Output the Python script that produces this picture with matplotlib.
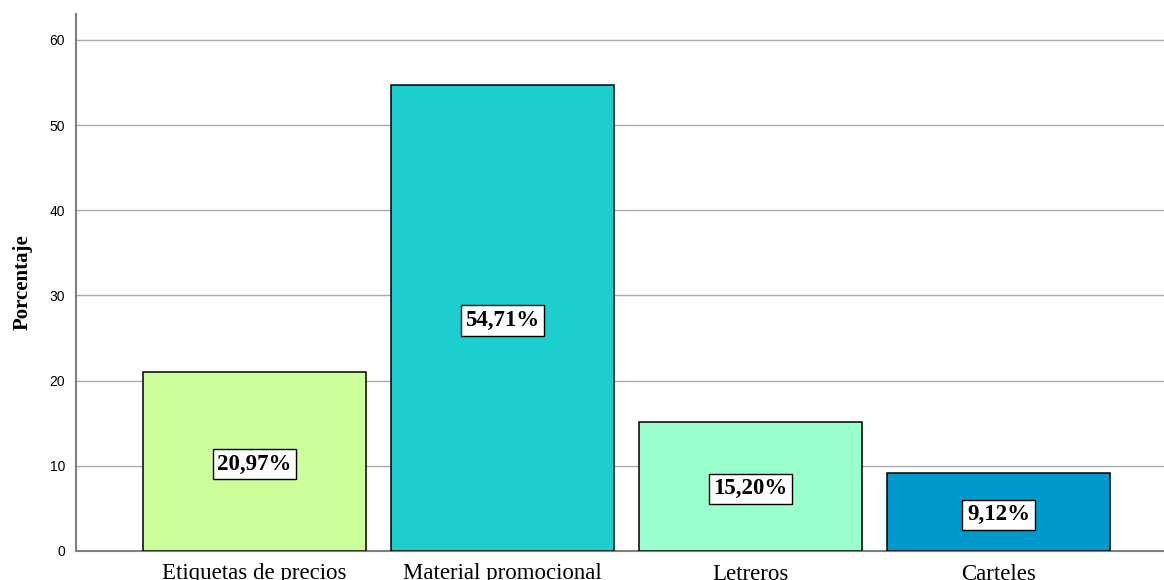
import matplotlib.pyplot as plt

# data ========================================================================

categorias = ["Etiquetas de precios", "Material promocional", "Letreros", "Carteles"]
porcentajes = [20.97, 54.71, 15.20, 9.12]
colores = ["#CCFF99", "#1CCECE", "#99FFCC", "#0099CC"]

# plot ========================================================================

fig = plt.figure(figsize=(11.64, 5.8), dpi=100)
ax = fig.add_axes([0.0653, 0.05, 0.9347, 0.9259])

x = range(len(categorias))
ax.bar(x, porcentajes, width=0.9, color=colores, edgecolor="black",
       linewidth=1.1, zorder=3)

for i, v in zip(x, porcentajes):
    ax.text(i, v / 2, f"{v:.2f}%".replace(".", ","), ha="center",
            va="center_baseline", family="Liberation Serif", fontsize=16.5,
            fontweight="bold", zorder=4,
            bbox=dict(facecolor="white", edgecolor="black", linewidth=1,
                      boxstyle="square,pad=0.2"))

ax.set_xlim(-0.72, 3.667)
ax.set_ylim(0, 63.05)
ax.set_yticks([0, 10, 20, 30, 40, 50, 60])
ax.set_xticks(list(x))
ax.set_xticklabels(categorias, family="Liberation Serif", fontsize=16.5)
ax.tick_params(axis="y", length=0, labelsize=10, pad=8)
ax.tick_params(axis="x", length=0, pad=9)
for lab in ax.get_yticklabels():
    lab.set_family("Liberation Sans")

ax.yaxis.grid(True, color="#ABABAB", linewidth=1, zorder=0)
ax.set_axisbelow(True)
for side in ["top", "right"]:
    ax.spines[side].set_visible(False)
for side in ["left", "bottom"]:
    ax.spines[side].set_color("#7F7F7F")
    ax.spines[side].set_linewidth(1.5)

ax.set_ylabel("Porcentaje", family="Liberation Serif", fontsize=15,
              fontweight="bold", labelpad=12)

fig.savefig("out.png", dpi=100)
